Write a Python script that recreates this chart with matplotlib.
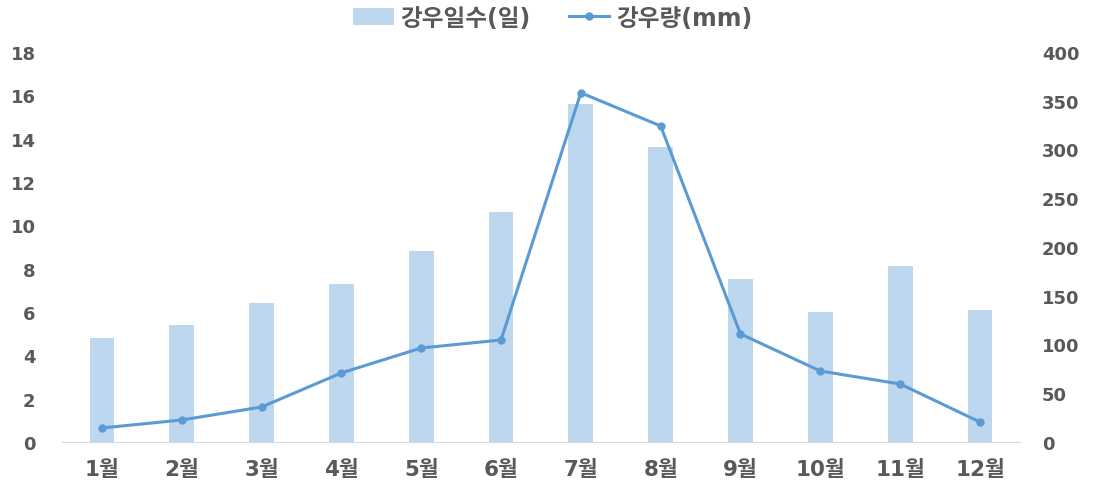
import numpy as np
import matplotlib.pyplot as plt

plt.rcParams['font.family'] = ['DejaVu Sans', 'Noto Sans CJK KR']

BAR_BLUE = "#bdd7ee"
LINE_BLUE = "#5b9bd5"
TEXT_GRAY = "#595959"
AXIS_GRAY = "#d9d9d9"

months = ["1월", "2월", "3월", "4월", "5월", "6월", "7월", "8월", "9월", "10월", "11월", "12월"]
rain_days = [4.8, 5.4, 6.4, 7.3, 8.8, 10.6, 15.6, 13.6, 7.5, 6.0, 8.1, 6.1]
rain_mm = [14.4, 22.6, 35.9, 70.8, 96.4, 104.6, 358.0, 324.0, 110.8, 72.8, 59.5, 20.5]

fig = plt.figure(figsize=(10.99, 4.89), dpi=100)
ax = fig.add_axes([0.0564, 0.094, 0.8716, 0.798])
ax2 = ax.twinx()

x = np.arange(len(months))
bars = ax.bar(x, rain_days, width=0.31, color=BAR_BLUE, zorder=2)
line, = ax2.plot(x, rain_mm, color=LINE_BLUE, linewidth=2.2, marker="o", markersize=5, zorder=3)

ax.set_xlim(-0.5, len(months) - 0.5)
ax.set_ylim(0, 18)
ax.set_yticks(np.arange(0, 19, 2))
ax2.set_ylim(0, 400)
ax2.set_yticks(np.arange(0, 401, 50))
ax.set_xticks(x)
ax.set_xticklabels(months)

for a in (ax, ax2):
    for s in ("top", "right", "left"):
        a.spines[s].set_visible(False)
    a.spines["bottom"].set_color(AXIS_GRAY)
    a.tick_params(length=0, colors=TEXT_GRAY, labelsize=13)
    for lbl in a.get_xticklabels() + a.get_yticklabels():
        lbl.set_fontweight("bold")
ax2.spines["bottom"].set_visible(False)
ax.tick_params(axis="x", labelsize=15.5, pad=12)
ax.tick_params(axis="y", pad=19)
ax2.tick_params(axis="y", pad=16)
ax.set_zorder(1)
ax2.set_zorder(2)

fig.legend([bars, line], ["강우일수(일)", "강우량(mm)"], loc="upper center",
           bbox_to_anchor=(0.503, 1.03), ncol=2, frameon=False,
           prop={"size": 17, "weight": "bold"}, labelcolor=TEXT_GRAY,
           handlelength=1.7, columnspacing=1.6, handletextpad=0.3)

fig.savefig("out.png", dpi=100, facecolor="white")
